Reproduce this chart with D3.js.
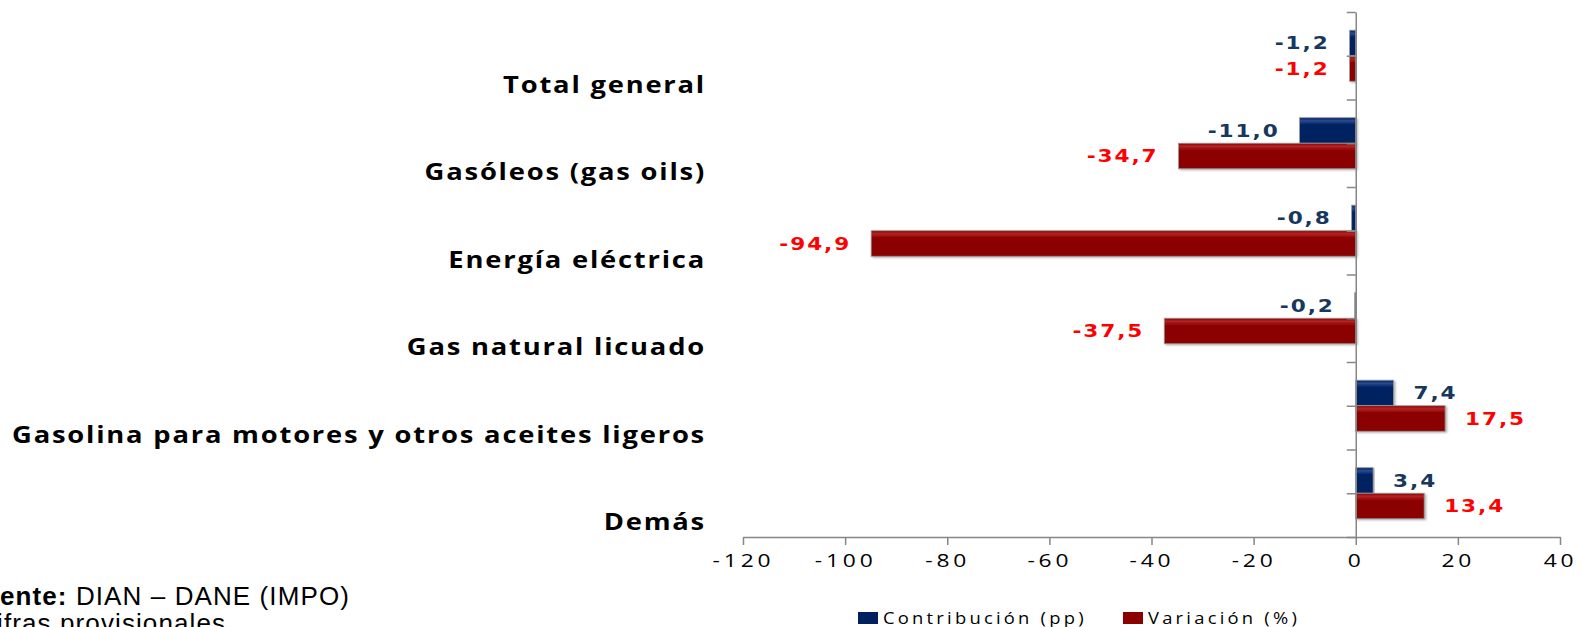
<!DOCTYPE html>
<html>
<head>
<meta charset="utf-8">
<script src="https://cdn.jsdelivr.net/npm/d3@7"></script>
<style>
  html, body { margin: 0; padding: 0; background: #fff; overflow: hidden; }
  svg { display: block; }
</style>
</head>
<body>
<svg id="chart" width="1581" height="627"></svg>
<script>
var categories = ["Total general", "Gasóleos (gas oils)", "Energía eléctrica", "Gas natural licuado",
                  "Gasolina para motores y otros aceites ligeros", "Demás"];
var contribucion = [-1.2, -11.0, -0.8, -0.2, 7.4, 3.4];
var variacion = [-1.2, -34.7, -94.9, -37.5, 17.5, 13.4];
var seriesNames = ["Contribución (pp)", "Variación (%)"];
var xTicks = [-120, -100, -80, -60, -40, -20, 0, 20, 40];

var colors = {
  base: ["#002060", "#8B0000"],
  light: ["#2a4a92", "#b52424"],
  label: ["#17375E", "#FF0000"]
};

var plot = {left: 743, right: 1560, top: 12, bottom: 537};

var locale = d3.formatLocale({decimal: ",", thousands: ".", grouping: [3], currency: ["$", ""], minus: "-"});
var fmt = locale.format(".1f");
var tickFmt = locale.format("d");

var x = d3.scaleLinear()
    .domain([-120, 40])
    .range([plot.left, plot.right]);

var y = d3.scaleBand()
    .domain(categories)
    .range([plot.top, plot.bottom])
    .padding(0);

var ySub = d3.scaleBand()
    .domain(seriesNames)
    .range([0, y.bandwidth()])
    .paddingInner(0)
    .paddingOuter(0.715);

var svg = d3.select("#chart");

// gradients for the bevelled look
var defs = svg.append("defs");
seriesNames.forEach(function(s, i){
  var g = defs.append("linearGradient")
      .attr("id", "grad" + i)
      .attr("x1", 0).attr("y1", 0).attr("x2", 0).attr("y2", 1);
  g.append("stop").attr("offset", "0%").attr("stop-color", colors.base[i]);
  g.append("stop").attr("offset", "12%").attr("stop-color", colors.light[i]);
  g.append("stop").attr("offset", "28%").attr("stop-color", colors.base[i]);
  g.append("stop").attr("offset", "100%").attr("stop-color", colors.base[i]);
});
var shadow = defs.append("filter").attr("id", "shadow")
    .attr("x", "-5%").attr("y", "-20%").attr("width", "115%").attr("height", "150%");
shadow.append("feDropShadow")
    .attr("dx", 1.5).attr("dy", 1).attr("stdDeviation", 1)
    .attr("flood-color", "#777").attr("flood-opacity", 0.6);

var rows = categories.map(function(c, i){
  return {cat: c, values: [contribucion[i], variacion[i]]};
});

// bars
var group = svg.selectAll(".cat")
    .data(rows)
  .enter().append("g")
    .attr("class", "cat")
    .attr("transform", function(d){ return "translate(0," + y(d.cat) + ")"; });

group.selectAll("rect")
    .data(function(d){ return d.values.map(function(v, i){ return {v: v, i: i}; }); })
  .enter().append("rect")
    .attr("x", function(d){ return x(Math.min(0, d.v)); })
    .attr("y", function(d){ return ySub(seriesNames[d.i]); })
    .attr("width", function(d){ return Math.abs(x(d.v) - x(0)); })
    .attr("height", ySub.bandwidth())
    .attr("fill", function(d){ return "url(#grad" + d.i + ")"; })
    .attr("stroke", "#9a9a9a")
    .attr("stroke-width", 0.8)
    .attr("filter", "url(#shadow)");

// data labels (text is a bit stretched sideways, like the original)
group.selectAll("text.value")
    .data(function(d){ return d.values.map(function(v, i){ return {v: v, i: i}; }); })
  .enter().append("text")
    .attr("class", "value")
    .attr("transform", function(d){
      var tx = d.v < 0 ? x(d.v) - 20 : x(d.v) + 20;
      var ty = ySub(seriesNames[d.i]) + ySub.bandwidth() / 2;
      return "translate(" + tx + "," + ty + ") scale(1.2,1)";
    })
    .attr("dy", "0.36em")
    .attr("text-anchor", function(d){ return d.v < 0 ? "end" : "start"; })
    .style("font-family", "'DejaVu Sans', Verdana, sans-serif")
    .style("font-weight", "bold")
    .style("font-size", "18px")
    .style("letter-spacing", "1.6px")
    .attr("fill", function(d){ return colors.label[d.i]; })
    .text(function(d){ return fmt(d.v); });

// category labels (sit below the bar pair, as in the original)
svg.selectAll(".catlabel")
    .data(categories)
  .enter().append("text")
    .attr("class", "catlabel")
    .attr("transform", function(d){ return "translate(706," + (y(d) + y.bandwidth() * 0.83) + ") scale(1.19,1)"; })
    .attr("dy", "0.36em")
    .attr("text-anchor", "end")
    .style("font-family", "'Open Sans', sans-serif")
    .style("font-weight", "bold")
    .style("font-size", "23px")
    .style("letter-spacing", "1.5px")
    .attr("fill", "#000")
    .text(function(d){ return d; });

// x axis
var xAxis = d3.axisBottom(x)
    .tickValues(xTicks)
    .tickSize(8)
    .tickSizeOuter(0)
    .tickPadding(9)
    .tickFormat(tickFmt);

var gx = svg.append("g")
    .attr("class", "x axis")
    .attr("transform", "translate(0," + plot.bottom + ")")
    .call(xAxis);
gx.selectAll("path, line").attr("stroke", "#868686").attr("stroke-width", 1.5);
gx.selectAll("text")
    .attr("transform", "scale(1.2,1)")
    .style("font-family", "'Open Sans', sans-serif")
    .style("font-size", "19px")
    .style("letter-spacing", "3.2px")
    .attr("fill", "#000");

// y axis: ticks every half category
var yTick = d3.scaleLinear().domain([0, categories.length]).range([plot.top, plot.bottom]);
var gy = svg.append("g")
    .attr("class", "y axis")
    .attr("transform", "translate(" + x(0) + ",0)")
    .call(d3.axisLeft(yTick)
      .tickValues(d3.range(0, categories.length + 0.5, 0.5))
      .tickSize(9)
      .tickSizeOuter(0)
      .tickFormat(""));
gy.selectAll("path, line").attr("stroke", "#868686").attr("stroke-width", 1.5);

// legend
var legendX = [858, 1123];
var legend = svg.selectAll(".legend")
    .data(seriesNames)
  .enter().append("g")
    .attr("class", "legend")
    .attr("transform", function(d, i){ return "translate(" + legendX[i] + ",618)"; });
legend.append("rect")
    .attr("x", 0).attr("y", -6)
    .attr("width", 20).attr("height", 12)
    .attr("fill", function(d, i){ return colors.base[i]; });
legend.append("text")
    .attr("transform", "translate(25,0) scale(1.15,1)")
    .attr("dy", "0.36em")
    .style("font-family", "'Open Sans', sans-serif")
    .style("font-size", "16px")
    .style("letter-spacing", "2.8px")
    .attr("fill", "#000")
    .text(function(d){ return d; });

// source note (clipped at the left edge like the original)
var note = svg.append("text")
    .attr("x", -34)
    .attr("y", 605)
    .style("font-family", "'Liberation Sans', Arial, sans-serif")
    .style("font-size", "26px")
    .style("letter-spacing", "1.1px")
    .attr("fill", "#000");
note.append("tspan").style("font-weight", "bold").text("Fuente:");
note.append("tspan").text(" DIAN – DANE (IMPO)");

svg.append("text")
    .attr("x", -34)
    .attr("y", 632)
    .style("font-family", "'Liberation Sans', Arial, sans-serif")
    .style("font-size", "26px")
    .style("letter-spacing", "1.1px")
    .attr("fill", "#000")
    .text("*Cifras provisionales");
</script>
</body>
</html>
